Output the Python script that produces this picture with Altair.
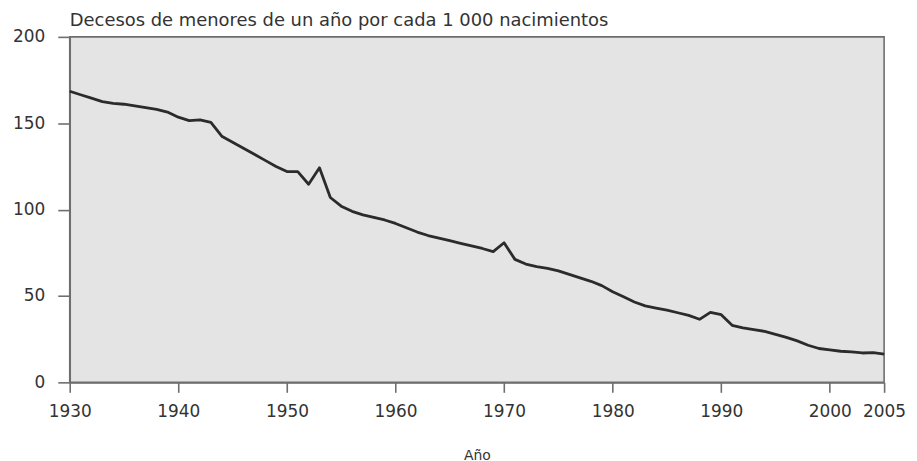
import altair as alt
import pandas as pd

years = list(range(1930, 2006))
deaths = [
    168.5, 166.5, 164.5, 162.5, 161.5, 161.0, 160.0, 159.0, 158.0, 156.5,  # 1930-1939
    153.5, 151.5, 152.0, 150.5, 142.5, 139.0, 135.5, 132.0, 128.5, 125.0,  # 1940-1949
    122.0, 122.0, 114.7, 124.2, 107.0, 102.0, 99.0, 97.0, 95.5, 94.0,      # 1950-1959
    92.0, 89.5, 87.0, 85.0, 83.5, 82.0, 80.5, 79.0, 77.5, 75.7,            # 1960-1969
    80.8, 71.2, 68.5, 67.0, 66.0, 64.5, 62.5, 60.5, 58.5, 56.0,            # 1970-1979
    52.5, 49.5, 46.5, 44.3, 43.0, 41.8, 40.3, 38.8, 36.5, 40.5,            # 1980-1989
    39.2, 33.0, 31.5, 30.5, 29.5, 27.8, 26.0, 24.0, 21.5, 19.6,            # 1990-1999
    18.8, 18.0, 17.6, 17.0, 17.2, 16.3,                                    # 2000-2005
]

x_ticks = [1930, 1940, 1950, 1960, 1970, 1980, 1990, 2000, 2005]
y_ticks = [0, 50, 100, 150, 200]

title_text = "Decesos de menores de un año por cada 1 000 nacimientos"
x_title = "Año"

df = pd.DataFrame({"year": years, "deaths": deaths})

FONT = "DejaVu Sans"

chart = (
    alt.Chart(df)
    .mark_line(color="#2b2b2b", strokeWidth=2.8, strokeJoin="round")
    .encode(
        x=alt.X(
            "year:Q",
            scale=alt.Scale(domain=[1930, 2005], nice=False, zero=False),
            axis=alt.Axis(
                values=x_ticks,
                format="d",
                title=x_title,
                grid=False,
                tickSize=10,
                labelPadding=11,
                labelFontSize=17,
                labelFont=FONT,
                labelColor="#333333",
                labelOverlap=False,
                labelFlush=False,
                titleFont=FONT,
                titleFontSize=14,
                titleFontWeight="normal",
                titleColor="#333333",
                titlePadding=29,
                domainColor="#6e6e6e",
                tickColor="#6e6e6e",
                domainWidth=1.6,
                tickWidth=1.6,
            ),
        ),
        y=alt.Y(
            "deaths:Q",
            scale=alt.Scale(domain=[0, 200], nice=False),
            axis=alt.Axis(
                values=y_ticks,
                title=None,
                grid=False,
                tickSize=12,
                labelPadding=13,
                labelFontSize=17,
                labelFont=FONT,
                labelColor="#333333",
                domainColor="#6e6e6e",
                tickColor="#6e6e6e",
                domainWidth=1.6,
                tickWidth=1.6,
            ),
        ),
    )
    .properties(
        width=818,
        height=347,
        background="white",
        title=alt.TitleParams(
            text=title_text,
            anchor="start",
            frame="group",
            offset=-2,
            fontSize=18,
            font=FONT,
            fontWeight="normal",
            color="#333333",
        ),
        autosize=alt.AutoSizeParams(type="none"),
        padding={"left": 62, "top": 28, "right": 25, "bottom": 80},
    )
    .configure_view(fill="#e4e4e4", stroke="#6e6e6e", strokeWidth=1.6)
)

chart.save("out.html", embed_options={"renderer": "svg", "actions": False})
